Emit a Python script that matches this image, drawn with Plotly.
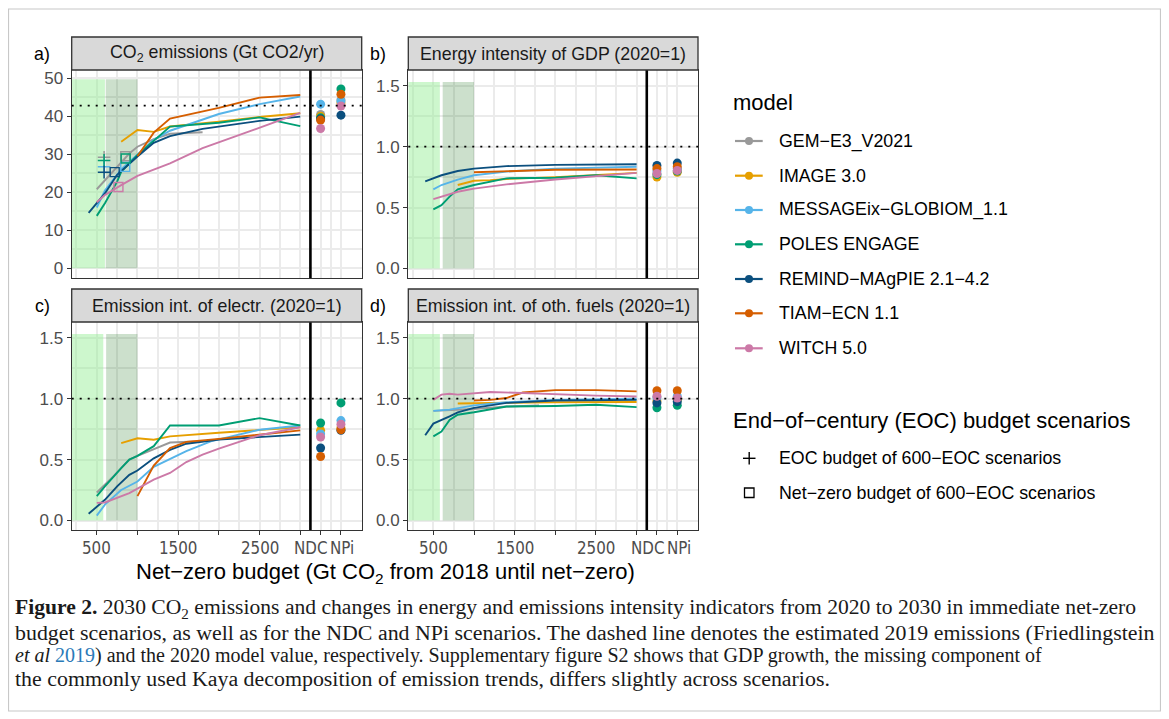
import plotly.graph_objects as go

W, H = 1169, 719
OFF = 8  # browser body margin offset

# ---------------- data ----------------
models = ["GEM−E3_V2021", "IMAGE 3.0", "MESSAGEix−GLOBIOM_1.1", "POLES ENGAGE",
          "REMIND−MAgPIE 2.1−4.2", "TIAM−ECN 1.1", "WITCH 5.0"]
keys = ["GEM", "IMAGE", "MESSAGE", "POLES", "REMIND", "TIAM", "WITCH"]
colors = ["#999999", "#E69F00", "#56B4E9", "#009E73", "#0B4F7E", "#D55E00", "#CC79A7"]

x_tick_vals = [500, 1000, 1500, 2000, 2500, 3000, 3250, 3500]
x_label_text = ["500", "1500", "2500", "NDC", "NPi"]
x_label_pos = [500, 1500, 2500, 3128, 3518]
scenario_pos = [3250, 3500]  # NDC, NPi

# a) CO2 emissions (Gt CO2/yr) in 2030
co2_x = {
    "GEM": [500, 700, 900, 1000, 1200, 1400, 1800],
    "IMAGE": [800, 1000, 1200, 1400, 2000, 2500, 3000],
    "MESSAGE": [500, 600, 800, 1000, 1200, 1400, 2000, 2500, 3000],
    "POLES": [500, 600, 750, 800, 1000, 1400, 2000, 2500, 3000],
    "REMIND": [400, 600, 750, 900, 1000, 1200, 1400, 1800, 2500, 3000],
    "TIAM": [1000, 1200, 1400, 2000, 2500, 3000],
    "WITCH": [500, 600, 800, 1000, 1400, 1800, 2400, 3000],
}
co2_y = {
    "GEM": [20.8, 25.4, 30.2, 32.0, 34.0, 35.4, 35.8],
    "IMAGE": [33.3, 36.4, 35.9, 37.3, 38.6, 39.8, 40.8],
    "MESSAGE": [16.0, 20.5, 26.0, 29.8, 33.8, 36.2, 40.6, 43.2, 45.2],
    "POLES": [13.8, 17.1, 22.8, 25.4, 29.8, 37.3, 38.3, 39.7, 37.4],
    "REMIND": [14.6, 19.7, 24.6, 27.6, 29.4, 33.0, 34.8, 36.7, 38.8, 39.9],
    "TIAM": [29.5, 35.7, 39.4, 42.2, 44.9, 45.6],
    "WITCH": [17.4, 19.3, 21.9, 24.3, 27.6, 31.6, 36.2, 40.9],
}
co2_ndc = [40.5, 40.0, 43.2, 39.6, 39.3, 39.0, 36.8]
co2_npi = [44.3, 43.5, 44.0, 47.2, 40.3, 45.8, 42.7]
co2_hist_2019 = 42.8
# 600-EOC scenarios: EOC budget (+) and net-zero budget (square)
eoc_models = ["GEM", "MESSAGE", "POLES", "REMIND"]
eoc_budget = [590, 590, 590, 590]
eoc_co2 = [29.2, 26.7, 28.4, 25.3]
nz_models = ["GEM", "MESSAGE", "POLES", "REMIND", "WITCH"]
nz_budget = [850, 850, 855, 720, 766]
nz_co2 = [29.5, 26.7, 28.9, 25.3, 21.4]

# b) Energy intensity of GDP (2020=1)
ei_x = {
    "IMAGE": [800, 1000, 1200, 1400, 2000, 2500, 3000],
    "MESSAGE": [500, 600, 800, 1000, 1400, 2000, 3000],
    "POLES": [500, 600, 700, 800, 1000, 1400, 2000, 2500, 3000],
    "REMIND": [400, 600, 800, 1000, 1400, 2000, 3000],
    "TIAM": [1000, 1400, 2000, 3000],
    "WITCH": [500, 600, 800, 1000, 1400, 2000, 2500, 3000],
}
ei_y = {
    "IMAGE": [0.685, 0.72, 0.725, 0.735, 0.75, 0.765, 0.785],
    "MESSAGE": [0.65, 0.685, 0.73, 0.765, 0.795, 0.82, 0.835],
    "POLES": [0.485, 0.52, 0.59, 0.65, 0.685, 0.74, 0.745, 0.765, 0.74],
    "REMIND": [0.715, 0.765, 0.80, 0.82, 0.84, 0.85, 0.855],
    "TIAM": [0.79, 0.80, 0.81, 0.812],
    "WITCH": [0.57, 0.59, 0.63, 0.655, 0.69, 0.73, 0.755, 0.785],
}
ei_ndc = [None, 0.75, 0.80, 0.77, 0.845, 0.82, 0.78]
ei_npi = [None, 0.79, 0.82, 0.80, 0.865, 0.835, 0.805]

# c) Emission intensity of electricity (2020=1)
elec_x = {
    "GEM": [500, 700, 900, 1000, 1400, 1800],
    "IMAGE": [800, 1000, 1200, 1400, 2000, 2500, 3000],
    "MESSAGE": [500, 600, 800, 900, 1000, 1200, 1400, 1600, 1900, 2500, 3000],
    "POLES": [500, 600, 800, 900, 1000, 1200, 1400, 2000, 2500, 3000],
    "REMIND": [400, 600, 750, 900, 1000, 1200, 1400, 1600, 2000, 2500, 3000],
    "TIAM": [1000, 1200, 1400, 1600, 2000, 2500, 3000],
    "WITCH": [500, 600, 900, 1200, 1400, 1600, 1800, 2000, 2500, 3000],
}
elec_y = {
    "GEM": [0.23, 0.36, 0.50, 0.53, 0.64, 0.65],
    "IMAGE": [0.635, 0.675, 0.663, 0.69, 0.72, 0.745, 0.765],
    "MESSAGE": [0.04, 0.13, 0.25, 0.285, 0.32, 0.44, 0.505, 0.57, 0.65, 0.745, 0.78],
    "POLES": [0.20, 0.28, 0.43, 0.50, 0.53, 0.61, 0.78, 0.78, 0.84, 0.78],
    "REMIND": [0.055, 0.17, 0.28, 0.375, 0.41, 0.51, 0.58, 0.63, 0.665, 0.685, 0.705],
    "TIAM": [0.20, 0.45, 0.595, 0.645, 0.67, 0.705, 0.74],
    "WITCH": [0.145, 0.148, 0.225, 0.335, 0.39, 0.48, 0.54, 0.59, 0.70, 0.765],
}
elec_ndc = [None, 0.74, 0.71, 0.80, 0.595, 0.525, 0.685]
elec_npi = [None, 0.76, 0.82, 0.965, 0.74, 0.745, 0.79]

# d) Emission intensity of other fuels (2020=1)
fuel_x = {
    "GEM": [500, 700, 1000, 1400, 1800],
    "IMAGE": [800, 1000, 1400, 2000, 3000],
    "MESSAGE": [500, 700, 1000, 1400, 2000, 3000],
    "POLES": [500, 600, 700, 800, 1000, 1400, 2000, 2500, 3000],
    "REMIND": [400, 500, 700, 800, 1000, 1400, 2000, 3000],
    "TIAM": [1000, 1200, 1400, 1600, 2000, 2500, 3000],
    "WITCH": [500, 600, 700, 800, 1200, 1400, 2000, 2500, 3000],
}
fuel_y = {
    "GEM": [0.90, 0.905, 0.915, 0.935, 0.945],
    "IMAGE": [0.96, 0.963, 0.966, 0.97, 0.972],
    "MESSAGE": [0.90, 0.91, 0.945, 0.97, 0.99, 1.0],
    "POLES": [0.69, 0.73, 0.825, 0.868, 0.888, 0.935, 0.94, 0.95, 0.93],
    "REMIND": [0.70, 0.795, 0.855, 0.888, 0.924, 0.965, 0.985, 0.99],
    "TIAM": [0.985, 0.99, 1.005, 1.05, 1.07, 1.07, 1.06],
    "WITCH": [0.99, 1.033, 1.04, 1.033, 1.055, 1.05, 1.037, 1.025, 1.018],
}
fuel_ndc = [None, 0.98, 1.01, 0.925, 0.965, 1.065, 1.02]
fuel_npi = [None, 0.99, 1.02, 0.945, 0.975, 1.065, 1.005]

panel_titles = ["CO<sub>2</sub> emissions (Gt CO2/yr)", "Energy intensity of GDP (2020=1)",
                "Emission int. of electr. (2020=1)", "Emission int. of oth. fuels (2020=1)"]
panel_tags = ["a)", "b)", "c)", "d)"]
ref_levels = [co2_hist_2019, 1.0, 1.0, 1.0]

# ---------------- layout geometry (pixels in the 1169x719 page) ----------------
col_px = [(71.7, 361.7), (408.3, 698.0)]
row_px = [(70.0, 278.0), (322.0, 530.0)]
strip_px = [(37.0, 70.0), (289.0, 322.0)]
XR = [192, 3755]
FW, FH = W - OFF, H - OFF


def fx(p):
    return (p - OFF) / FW


def fy(p):
    return 1 - (p - OFF) / FH


FONT = "Liberation Sans, Arial, sans-serif"
NARROW = "Liberation Sans Narrow, Arial Narrow, DejaVu Sans Condensed, Liberation Sans, sans-serif"
fig = go.Figure()

panels = [(co2_x, co2_y, co2_ndc, co2_npi), (ei_x, ei_y, ei_ndc, ei_npi),
          (elec_x, elec_y, elec_ndc, elec_npi), (fuel_x, fuel_y, fuel_ndc, fuel_npi)]

shapes = []
annotations = []
GRID = "#EBEBEB"

for i, (px_, py_, ndc, npi) in enumerate(panels):
    r, c = divmod(i, 2)
    sfx = "" if i == 0 else str(i + 1)
    xa, ya = "x" + sfx, "y" + sfx
    top = 49.75 if i == 0 else 1.53
    lg_end = 600 if i == 0 else 580
    shapes.append(dict(type="rect", xref=xa, yref=ya, x0=XR[0], x1=lg_end, y0=0, y1=top,
                       fillcolor="rgba(144,238,144,0.45)", line_width=0, layer="between"))
    shapes.append(dict(type="rect", xref=xa, yref=ya, x0=610 if i == 0 else 615, x1=1000, y0=0, y1=top,
                       fillcolor="rgba(0,100,0,0.2)", line_width=0, layer="between"))
    shapes.append(dict(type="line", xref=xa + " domain", yref=ya, x0=0, x1=1,
                       y0=ref_levels[i], y1=ref_levels[i],
                       line=dict(color="black", width=1.8, dash="2px,6px"), layer="above"))
    shapes.append(dict(type="line", xref=xa, yref=ya + " domain", x0=3125, x1=3125, y0=0, y1=1,
                       line=dict(color="black", width=2.6), layer="above"))
    for k, key in enumerate(keys):
        if key in px_:
            fig.add_trace(go.Scatter(x=px_[key], y=py_[key], mode="lines",
                                     line=dict(color=colors[k], width=1.9),
                                     xaxis=xa, yaxis=ya, showlegend=False, hoverinfo="skip"))
    for k, key in enumerate(keys):
        if ndc[k] is not None:
            fig.add_trace(go.Scatter(x=scenario_pos, y=[ndc[k], npi[k]], mode="markers",
                                     marker=dict(color=colors[k], size=9),
                                     xaxis=xa, yaxis=ya, showlegend=False, hoverinfo="skip"))
    if i == 0:
        for m, b, v in zip(eoc_models, eoc_budget, eoc_co2):
            col = colors[keys.index(m)]
            fig.add_trace(go.Scatter(x=[b], y=[v], mode="markers",
                                     marker=dict(symbol="cross-thin", size=9,
                                                 line=dict(color=col, width=1.5)),
                                     xaxis=xa, yaxis=ya, showlegend=False, hoverinfo="skip"))
        for m, b, v in zip(nz_models, nz_budget, nz_co2):
            col = colors[keys.index(m)]
            fig.add_trace(go.Scatter(x=[b], y=[v], mode="markers",
                                     marker=dict(symbol="square-open", size=9,
                                                 color=col, line=dict(color=col, width=1.4)),
                                     xaxis=xa, yaxis=ya, showlegend=False, hoverinfo="skip"))

    xax = dict(domain=[fx(col_px[c][0]), fx(col_px[c][1])], anchor=ya, range=XR,
               tickvals=x_tick_vals, showticklabels=False, showgrid=True,
               gridcolor=GRID, gridwidth=2, zeroline=False, showline=True,
               linecolor="#333333", linewidth=1.3, mirror=True,
               minor=dict(tickvals=[250, 750, 1250, 1750, 2250, 2750, 3125, 3375, 3750],
                          showgrid=True, gridcolor=GRID, gridwidth=1.5, ticks=""))
    if r == 1:
        xax.update(ticks="outside", ticklen=4, tickwidth=1.3, tickcolor="#333333")
        for lab, pos in zip(x_label_text, x_label_pos):
            annotations.append(dict(xref=xa, yref="paper", x=pos, y=fy(548), text=lab,
                                    showarrow=False, xanchor="center", yanchor="middle",
                                    font=dict(family=NARROW, size=16.8, color="#4D4D4D")))
    else:
        xax.update(ticks="")
    if i == 0:
        yvals = [0, 10, 20, 30, 40, 50]
        ytext = ["0", "10", "20", "30", "40", "50"]
        yminor = [5, 15, 25, 35, 45]
        yr = [-2.55, 52.18]
    else:
        yvals = [0, 0.5, 1.0, 1.5]
        ytext = ["0.0", "0.5", "1.0", "1.5"]
        yminor = [0.25, 0.75, 1.25]
        yr = [-0.078, 1.629]
    yax = dict(domain=[fy(row_px[r][1]), fy(row_px[r][0])], anchor=xa, range=yr,
               tickvals=yvals, ticktext=ytext, showgrid=True, gridcolor=GRID, gridwidth=2,
               zeroline=False, showline=True, linecolor="#333333", linewidth=1.3, mirror=True,
               ticks="outside", ticklen=4, tickwidth=1.3, tickcolor="#333333",
               ticklabelstandoff=0,
               minor=dict(tickvals=yminor, showgrid=True, gridcolor=GRID, gridwidth=1.5, ticks=""),
               tickfont=dict(family=FONT, size=17, color="#4D4D4D"))
    fig.update_layout(**{"xaxis" + sfx: xax, "yaxis" + sfx: yax})

    shapes.append(dict(type="rect", xref="paper", yref="paper",
                       x0=fx(col_px[c][0]), x1=fx(col_px[c][1]),
                       y0=fy(strip_px[r][1]), y1=fy(strip_px[r][0]),
                       fillcolor="#D9D9D9", line=dict(color="#333333", width=1.3), layer="above"))
    annotations.append(dict(xref="paper", yref="paper",
                            x=fx((col_px[c][0] + col_px[c][1]) / 2),
                            y=fy((strip_px[r][0] + strip_px[r][1]) / 2),
                            text=panel_titles[i], showarrow=False, xanchor="center", yanchor="middle",
                            font=dict(family=FONT, size=17.8, color="#1A1A1A")))
    annotations.append(dict(xref="paper", yref="paper", x=fx(col_px[c][0] - 20),
                            y=fy((strip_px[r][0] + strip_px[r][1]) / 2),
                            text=panel_tags[i], showarrow=False, xanchor="right", yanchor="middle",
                            font=dict(family=FONT, size=17.8, color="black")))

annotations.append(dict(xref="paper", yref="paper", x=fx(385), y=fy(573),
                        text="Net−zero budget (Gt CO<sub>2</sub> from 2018 until net−zero)",
                        showarrow=False, xanchor="center", yanchor="middle",
                        font=dict(family=FONT, size=22, color="black")))

annotations.append(dict(xref="paper", yref="paper", x=fx(731), y=fy(103), text="model",
                        showarrow=False, xanchor="left", yanchor="middle",
                        font=dict(family=FONT, size=22, color="black")))
leg_y = [141, 175.7, 210, 244.3, 279, 313.3, 348.3]
for k, name in enumerate(models):
    yy = leg_y[k]
    shapes.append(dict(type="line", xref="paper", yref="paper", x0=fx(735), x1=fx(762.7),
                       y0=fy(yy), y1=fy(yy), line=dict(color=colors[k], width=2.2)))
    shapes.append(dict(type="circle", xref="paper", yref="paper", x0=fx(745), x1=fx(753),
                       y0=fy(yy + 4), y1=fy(yy - 4), fillcolor=colors[k], line_width=0))
    annotations.append(dict(xref="paper", yref="paper", x=fx(777), y=fy(yy), text=name,
                            showarrow=False, xanchor="left", yanchor="middle",
                            font=dict(family=FONT, size=17.8, color="black")))

annotations.append(dict(xref="paper", yref="paper", x=fx(731), y=fy(420),
                        text="End−of−century (EOC) budget scenarios",
                        showarrow=False, xanchor="left", yanchor="middle",
                        font=dict(family=FONT, size=22, color="black")))
shapes.append(dict(type="line", xref="paper", yref="paper", x0=fx(743), x1=fx(755.5),
                   y0=fy(458.3), y1=fy(458.3), line=dict(color="black", width=1.4)))
shapes.append(dict(type="line", xref="paper", yref="paper", x0=fx(749.2), x1=fx(749.2),
                   y0=fy(452), y1=fy(464.6), line=dict(color="black", width=1.4)))
annotations.append(dict(xref="paper", yref="paper", x=fx(777), y=fy(458.3),
                        text="EOC budget of 600−EOC scenarios",
                        showarrow=False, xanchor="left", yanchor="middle",
                        font=dict(family=FONT, size=17.8, color="black")))
shapes.append(dict(type="rect", xref="paper", yref="paper", x0=fx(744.5), x1=fx(754),
                   y0=fy(497.5), y1=fy(488), line=dict(color="black", width=1.3)))
annotations.append(dict(xref="paper", yref="paper", x=fx(777), y=fy(492.7),
                        text="Net−zero budget of 600−EOC scenarios",
                        showarrow=False, xanchor="left", yanchor="middle",
                        font=dict(family=FONT, size=17.8, color="black")))

SERIF = "Liberation Serif, Times New Roman, serif"
cap_lines = [
    "<b>Figure 2.</b> 2030 CO<sub>2</sub> emissions and changes in energy and emissions intensity indicators from 2020 to 2030 in immediate net-zero",
    "budget scenarios, as well as for the NDC and NPi scenarios. The dashed line denotes the estimated 2019 emissions (Friedlingstein",
    "<i>et al</i> <span style='color:#2A7AB8'>2019</span>) and the 2020 model value, respectively. Supplementary figure S2 shows that GDP growth, the missing component of",
    "the commonly used Kaya decomposition of emission trends, differs slightly across scenarios.",
]
cap_y = [608.5, 632, 655, 678]
cap_size = [21.6, 21.9, 20.0, 21.9]
for t, yy, sz in zip(cap_lines, cap_y, cap_size):
    annotations.append(dict(xref="paper", yref="paper", x=fx(13), y=fy(yy), text=t,
                            showarrow=False, xanchor="left", yanchor="middle",
                            font=dict(family=SERIF, size=sz, color="#1A1A1A")))

shapes.append(dict(type="rect", xref="paper", yref="paper", x0=fx(8.5), x1=fx(1160.5),
                   y0=fy(711), y1=fy(9), line=dict(color="#C8C8C8", width=1.2), layer="below"))

fig.update_layout(width=FW, height=FH, margin=dict(l=0, r=0, t=0, b=0),
                  paper_bgcolor="white", plot_bgcolor="white",
                  shapes=shapes, annotations=annotations, showlegend=False,
                  font=dict(family=FONT))
fig.write_html("out.html")
